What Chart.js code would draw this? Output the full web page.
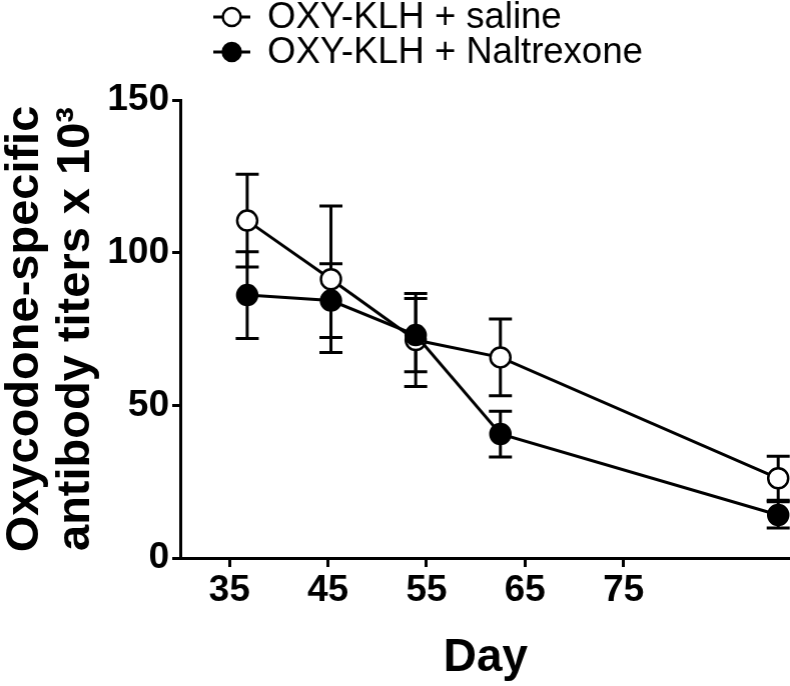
<!DOCTYPE html>
<html>
<head>
<meta charset="utf-8">
<script src="https://cdn.jsdelivr.net/npm/chart.js@4/dist/chart.umd.min.js"></script>
<style>
  html, body { margin: 0; padding: 0; background: #fff; overflow: hidden; }
  /* a bit wider than the window: Chart.js keeps ~12px on the right for point overflow,
     the axis in the figure runs right to the edge */
  #wrap { width: 802.5px; height: 686px; }
</style>
</head>
<body>
<div id="wrap"><canvas id="chart"></canvas></div>
<script>
// --- Data ---
const days = [36.8, 45.3, 53.9, 62.5, 90.7];           // x positions as drawn on the Day axis
const xTicks = [35, 45, 55, 65, 75];
const yTicks = [0, 50, 100, 150];

const salineMean = [110.5, 91.3, 71.4, 65.7, 26.1];
const salineSem  = [15.2, 24.0, 15.2, 12.6, 7.2];
const naltrexoneMean = [86.1, 84.3, 73.0, 40.6, 14.1];
const naltrexoneSem  = [14.2, 12.1, 12.0, 7.5, 4.3];

const seriesLabels = ['OXY-KLH + saline', 'OXY-KLH + Naltrexone'];

const mainFont = "'Liberation Sans', Arial, sans-serif";

const toPoints = (vals) => vals.map((v, i) => ({ x: days[i], y: v }));

// --- error bars (SEM), drawn under the markers ---
const errorBars = {
    id: 'errorBars',
    beforeDatasetsDraw(chart) {
        const { ctx, scales: { x, y } } = chart;
        ctx.save();
        ctx.strokeStyle = '#000';
        ctx.lineWidth = 3;
        chart.data.datasets.forEach(ds => {
            ds.data.forEach((pt, j) => {
                const e = ds.sem[j];
                const px = x.getPixelForValue(pt.x);
                const top = y.getPixelForValue(pt.y + e);
                const bot = y.getPixelForValue(pt.y - e);
                ctx.beginPath();
                ctx.moveTo(px, top); ctx.lineTo(px, bot);
                ctx.moveTo(px - 11.5, top); ctx.lineTo(px + 11.5, top);
                ctx.moveTo(px - 11.5, bot); ctx.lineTo(px + 11.5, bot);
                ctx.stroke();
            });
        });
        ctx.restore();
    }
};

// --- legend stacked in the top-left, marker with line through it ---
const stackedLegend = {
    id: 'stackedLegend',
    afterDraw(chart) {
        const { ctx } = chart;
        ctx.save();
        chart.data.datasets.forEach((ds, i) => {
            const cy = 17 + i * 35;
            ctx.strokeStyle = '#000';
            ctx.lineWidth = 3;
            ctx.beginPath();
            ctx.moveTo(213, cy); ctx.lineTo(250, cy);
            ctx.stroke();
            ctx.beginPath();
            ctx.arc(231.5, cy, 9, 0, Math.PI * 2);
            ctx.fillStyle = ds.pointBackgroundColor;
            ctx.fill();
            ctx.lineWidth = 2.5;
            ctx.stroke();
            ctx.fillStyle = '#000';
            ctx.font = '36.5px ' + mainFont;
            ctx.textBaseline = 'middle';
            ctx.fillText(ds.label, 267, cy + 1);
        });
        ctx.restore();
    }
};

new Chart(document.getElementById('chart'), {
    type: 'line',
    data: {
        datasets: [
            {
                label: seriesLabels[0],
                data: toPoints(salineMean),
                sem: salineSem,
                borderColor: '#000',
                borderWidth: 3,
                pointRadius: 10,
                pointBorderWidth: 2.5,
                pointBorderColor: '#000',
                pointBackgroundColor: '#fff',
                order: 1
            },
            {
                label: seriesLabels[1],
                data: toPoints(naltrexoneMean),
                sem: naltrexoneSem,
                borderColor: '#000',
                borderWidth: 3,
                pointRadius: 10,
                pointBorderWidth: 2.5,
                pointBorderColor: '#000',
                pointBackgroundColor: '#000',
                order: 0
            }
        ]
    },
    options: {
        responsive: true,
        maintainAspectRatio: false,
        animation: false,
        clip: false,
        layout: { padding: { top: 100, left: 0, right: 0, bottom: 0 } },
        plugins: {
            legend: { display: false },
            tooltip: { enabled: false }
        },
        scales: {
            x: {
                type: 'linear',
                min: 30,
                max: 92,
                afterBuildTicks: (s) => { s.ticks = xTicks.map(v => ({ value: v })); },
                afterFit: (s) => { s.height = 128; },
                grid: { drawOnChartArea: false, drawTicks: true, tickLength: 9, color: '#000', lineWidth: 3 },
                border: { display: true, color: '#000', width: 3 },
                ticks: { color: '#000', padding: 2, maxRotation: 0, font: { family: mainFont, weight: 'bold', size: 37 } },
                title: { display: true, text: 'Day', color: '#000', padding: { top: 2, bottom: 0 }, font: { family: mainFont, weight: 'bold', size: 46 } }
            },
            y: {
                min: 0,
                max: 150,
                afterBuildTicks: (s) => { s.ticks = yTicks.map(v => ({ value: v })); },
                afterFit: (s) => { s.width = 180; },
                grid: { drawOnChartArea: false, drawTicks: true, tickLength: 8, color: '#000', lineWidth: 3 },
                border: { display: true, color: '#000', width: 3 },
                ticks: { color: '#000', padding: 3, font: { family: mainFont, weight: 'bold', size: 37 } },
                title: {
                    display: true,
                    text: ['Oxycodone-specific', 'antibody titers x 10\u00B3'],
                    color: '#000',
                    padding: { top: 0, bottom: 0 },
                    font: { family: mainFont, weight: 'bold', size: 47, lineHeight: 1.08 }
                }
            }
        }
    },
    plugins: [errorBars, stackedLegend]
});
</script>
</body>
</html>
